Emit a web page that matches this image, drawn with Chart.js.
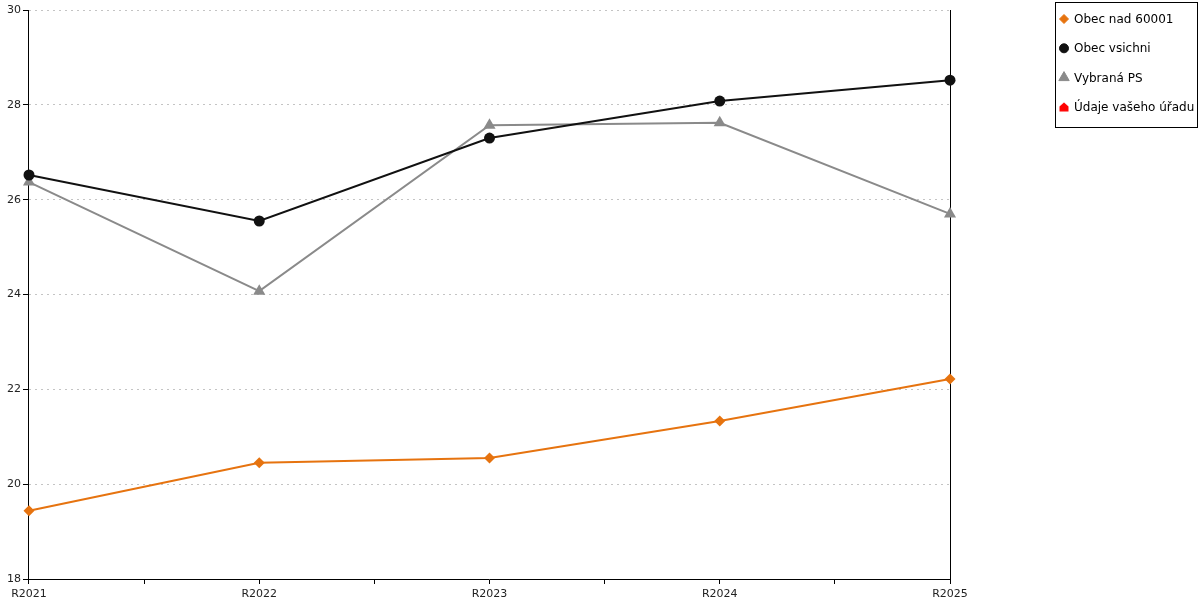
<!DOCTYPE html>
<html>
<head>
<meta charset="utf-8">
<script src="https://cdn.jsdelivr.net/npm/chart.js@4/dist/chart.umd.min.js"></script>
<style>
  html, body { margin: 0; padding: 0; background: #fff; }
  #wrap { width: 1200px; height: 600px; }
</style>
</head>
<body>
<div id="wrap"><canvas id="chart"></canvas></div>
<script>
// --- data ---
const categories = ['R2021', 'R2022', 'R2023', 'R2024', 'R2025'];
const obecNad60001 = [19.44, 20.45, 20.55, 21.33, 22.22];
const obecVsichni = [26.52, 25.55, 27.30, 28.08, 28.52];
const vybranaPS = [26.37, 24.07, 27.57, 27.62, 25.70];
const udajeUradu = [];
const yTicks = [18, 20, 22, 24, 26, 28, 30];

const FONT = 'DejaVu Sans, Verdana, sans-serif';

// red "house" marker, there is no such built-in point style
const house = document.createElement('canvas');
house.width = 10; house.height = 10;
const hc = house.getContext('2d');
hc.fillStyle = '#ff0000';
hc.beginPath();
hc.moveTo(5, 0.5); hc.lineTo(9.5, 4.5); hc.lineTo(9.5, 9.5); hc.lineTo(0.5, 9.5); hc.lineTo(0.5, 4.5);
hc.closePath(); hc.fill();

const toPoints = (vals) => vals.map((v, i) => ({ x: i, y: v }));

const series = [
    { label: 'Obec nad 60001', data: obecNad60001, color: '#e6730f', style: 'rectRot', radius: 5.5 },
    { label: 'Obec vsichni', data: obecVsichni, color: '#111111', style: 'circle', radius: 5.5 },
    { label: 'Vybraná PS', data: vybranaPS, color: '#8a8a8a', style: 'triangle', radius: 7 },
    { label: 'Údaje vašeho úřadu', data: udajeUradu, color: '#ff0000', style: house, radius: 5 },
];

// boxed legend on the right, drawn by hand
const boxLegend = {
    id: 'boxLegend',
    afterDraw(chart) {
        const ctx = chart.ctx;
        ctx.save();
        ctx.strokeStyle = '#000';
        ctx.lineWidth = 1;
        ctx.strokeRect(1055.5, 2.5, 142, 125);
        ctx.font = '12px ' + FONT;
        ctx.textBaseline = 'middle';
        series.forEach((s, i) => {
            const y = 19 + i * 29.3;
            ctx.fillStyle = s.color;
            ctx.strokeStyle = s.color;
            ctx.lineWidth = 1;
            Chart.helpers.drawPoint(ctx, { pointStyle: s.style, radius: s.style === 'triangle' ? 6 : 4.5, rotation: 0, borderWidth: 1 }, 1064, y);
            ctx.fillStyle = '#000';
            ctx.fillText(s.label, 1074, y + 1);
        });
        ctx.restore();
    }
};

new Chart(document.getElementById('chart').getContext('2d'), {
    type: 'line',
    data: {
        datasets: series.map(s => ({
            label: s.label,
            data: toPoints(s.data),
            borderColor: s.color,
            backgroundColor: s.color,
            borderWidth: 2,
            tension: 0,
            clip: false,
            pointStyle: s.style,
            pointRadius: s.radius,
            pointBorderWidth: 0,
            pointBackgroundColor: s.color,
        }))
    },
    options: {
        responsive: true, maintainAspectRatio: false, animation: false,
        layout: { padding: { top: 10, right: 250, left: 5, bottom: 0 } },
        plugins: { legend: { display: false }, tooltip: { enabled: false } },
        scales: {
            x: {
                type: 'linear', min: 0, max: 4,
                afterBuildTicks: (s) => { s.ticks = [0, 0.5, 1, 1.5, 2, 2.5, 3, 3.5, 4].map(v => ({ value: v })); },
                afterFit: (s) => { s.height = 21; },
                ticks: {
                    autoSkip: false, maxRotation: 0, padding: 4, color: '#222',
                    font: { family: FONT, size: 11 },
                    callback: (v) => Number.isInteger(v) ? categories[v] : ''
                },
                grid: { drawOnChartArea: false, tickLength: 5, tickColor: '#000' },
                border: { color: '#000' }
            },
            y: {
                min: 18, max: 30,
                afterBuildTicks: (s) => { s.ticks = yTicks.map(v => ({ value: v })); },
                ticks: { padding: 2, color: '#222', font: { family: FONT, size: 11 } },
                grid: { color: '#c4c4c4', tickColor: '#000', tickLength: 6, tickBorderDash: [] },
                border: { color: '#000', dash: [2, 4] }
            },
            y2: {
                position: 'right', min: 18, max: 30,
                ticks: { display: false },
                grid: { display: false, drawTicks: false },
                border: { color: '#000' }
            }
        }
    },
    plugins: [boxLegend]
});
</script>
</body>
</html>
